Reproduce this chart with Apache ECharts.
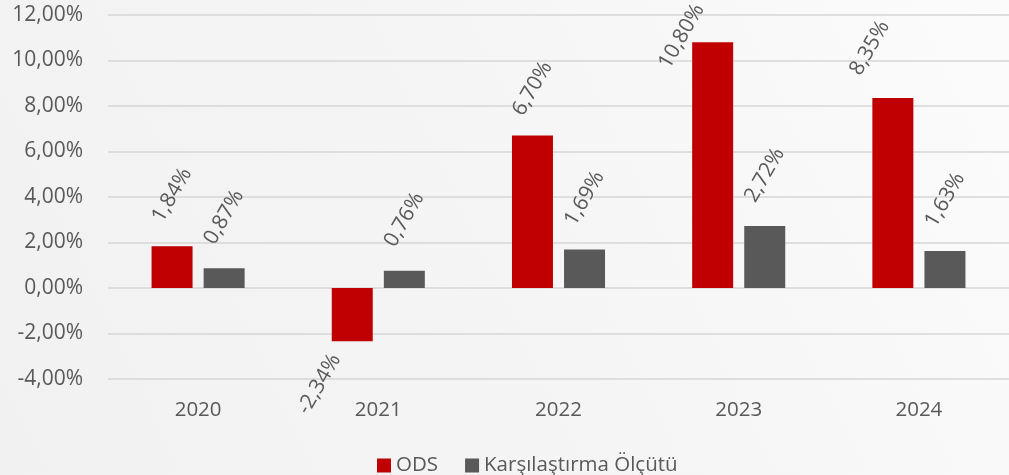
<!DOCTYPE html>
<html>
<head>
<meta charset="utf-8">
<script src="https://cdn.jsdelivr.net/npm/echarts@6/dist/echarts.min.js"></script>
<style>
html, body { margin: 0; padding: 0; }
#chart { width: 1009px; height: 475px; }
</style>
</head>
<body>
<div id="chart"></div>
<script>
// veriler
var years = ['2020', '2021', '2022', '2023', '2024'];
var odsValues = [1.84, -2.34, 6.70, 10.80, 8.35];
var benchValues = [0.87, 0.76, 1.69, 2.72, 1.63];
var seriesNames = ['ODS', 'Karşılaştırma Ölçütü'];

var textColor = '#595959';
var fontFamily = '"Open Sans", "Noto Sans", sans-serif';
var labelRotate = 60;

function pct(v) {
    return v.toFixed(2).replace('.', ',') + '%';
}

// label offset etiketle birlikte donuyor, ekran yonunde kaydirmak icin ters cevir
function screenOffset(dx, dy) {
    var a = labelRotate * Math.PI / 180;
    return [dx * Math.cos(a) - dy * Math.sin(a), dx * Math.sin(a) + dy * Math.cos(a)];
}

// ozel etiket konumlari (grafikteki gibi)
var odsLabelFix = {
    1: { position: 'bottom', distance: 43, offset: screenOffset(-33, 0) },
    2: { distance: 47 },
    3: { distance: 6, offset: screenOffset(-31, 0) },
    4: { distance: 50, offset: screenOffset(-23, 0) }
};

var odsData = odsValues.map(function (v, i) {
    var item = { value: v };
    if (odsLabelFix[i]) item.label = odsLabelFix[i];
    return item;
});

var baseLabel = {
    show: true,
    position: 'top',
    distance: 51,
    rotate: labelRotate,
    align: 'center',
    verticalAlign: 'middle',
    color: textColor,
    fontSize: 21,
    fontFamily: fontFamily,
    formatter: function (p) { return pct(p.value); }
};

var myChart = echarts.init(document.getElementById('chart'));
var option = {
    animation: false,
    backgroundColor: {
        type: 'linear', x: 0, y: 1, x2: 1, y2: 0,
        colorStops: [
            { offset: 0, color: '#f1f1f1' },
            { offset: 0.5, color: '#f5f5f5' },
            { offset: 1, color: '#fbfbfb' }
        ]
    },
    grid: { left: 108, top: 15, width: 918, bottom: 96, containLabel: false },
    legend: {
        left: 372,
        top: 450,
        icon: 'rect',
        itemWidth: 14,
        itemHeight: 14,
        itemGap: 27,
        textStyle: { color: textColor, fontSize: 20.5, fontFamily: fontFamily },
        data: seriesNames
    },
    xAxis: {
        type: 'category',
        data: years,
        axisLine: { show: false, onZero: false },
        axisTick: { show: false },
        axisLabel: { color: textColor, fontSize: 20.5, fontFamily: fontFamily, margin: 21 }
    },
    yAxis: {
        type: 'value',
        min: -4,
        max: 12,
        interval: 2,
        axisLine: { show: false },
        axisTick: { show: false },
        splitLine: { lineStyle: { color: '#d6d6d6', width: 1.5 } },
        axisLabel: {
            color: textColor, fontSize: 21, fontFamily: fontFamily, margin: 25,
            formatter: function (v) { return pct(v); }
        }
    },
    series: [
        {
            name: seriesNames[0],
            type: 'bar',
            barWidth: 41,
            barGap: '27%',
            itemStyle: { color: '#c00000' },
            label: baseLabel,
            data: odsData
        },
        {
            name: seriesNames[1],
            type: 'bar',
            barWidth: 41,
            barGap: '27%',
            itemStyle: { color: '#595959' },
            label: baseLabel,
            data: benchValues
        }
    ]
};
myChart.setOption(option);
</script>
</body>
</html>
